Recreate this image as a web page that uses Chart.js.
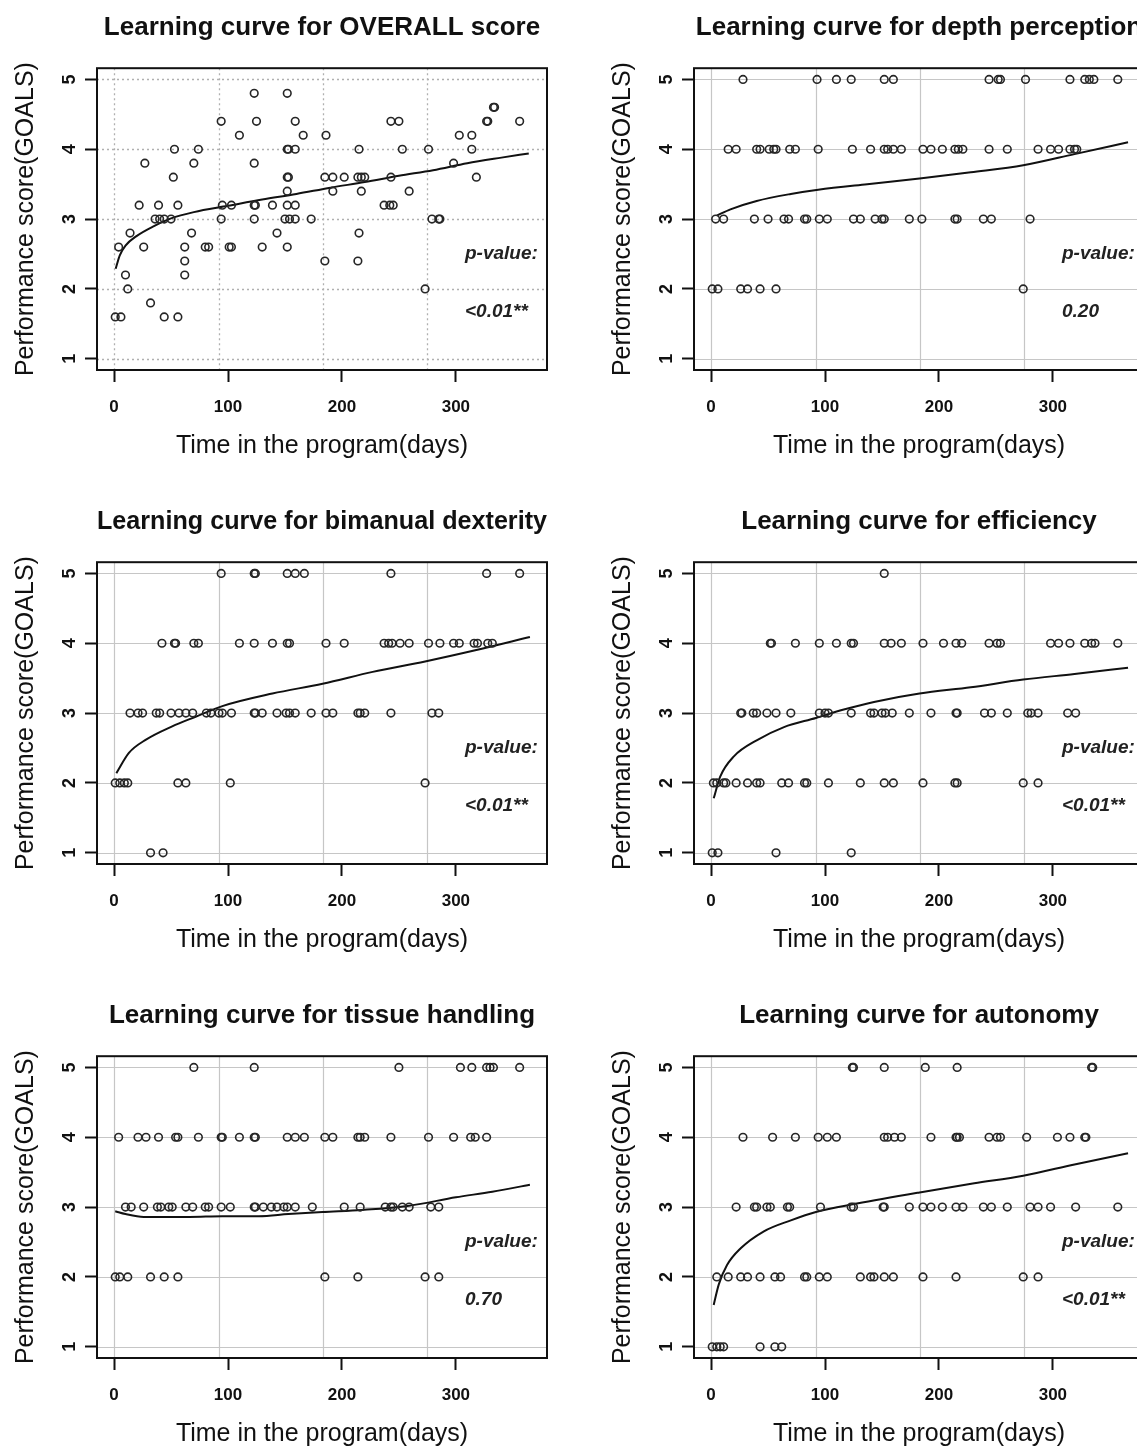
<!DOCTYPE html>
<html>
<head>
<meta charset="utf-8">
<script src="https://cdn.jsdelivr.net/npm/chart.js@4/dist/chart.umd.min.js"></script>
<style>
body { margin: 0; background: #fff; }
#wrap { position: relative; width: 1137px; height: 1446px; overflow: hidden; }
canvas { position: absolute; }
</style>
</head>
<body>
<div id="wrap"></div>
<script>
// axis stuff shared by every panel
const xTicks = [0, 100, 200, 300];
const yTicks = [1, 2, 3, 4, 5];
const gridDays = [0, 92, 183, 275];
const xTitle = 'Time in the program(days)';
const yTitle = 'Performance score(GOALS)';
const titles = [
  'Learning curve for OVERALL score',
  'Learning curve for depth perception',
  'Learning curve for bimanual dexterity',
  'Learning curve for efficiency',
  'Learning curve for tissue handling',
  'Learning curve for autonomy'
];
const pValues = ['<0.01**', '0.20', '<0.01**', '<0.01**', '0.70', '<0.01**'];

// observations: [score, [days...]]
const overallRows = [
  [4.8, [123, 152]],
  [4.6, [333, 334]],
  [4.4, [94, 125, 159, 243, 250, 327, 328, 356]],
  [4.2, [110, 166, 186, 303, 314]],
  [4.0, [53, 74, 152, 153, 159, 215, 253, 276, 314]],
  [3.8, [27, 70, 123, 298]],
  [3.6, [52, 152, 153, 185, 192, 202, 214, 217, 220, 243, 318]],
  [3.4, [152, 192, 217, 259]],
  [3.2, [22, 39, 56, 95, 103, 123, 124, 139, 152, 159, 237, 242, 245]],
  [3.0, [36, 40, 44, 50, 94, 123, 150, 154, 159, 173, 279, 285, 286]],
  [2.8, [14, 68, 143, 215]],
  [2.6, [4, 26, 62, 80, 83, 101, 103, 130, 152]],
  [2.4, [62, 185, 214]],
  [2.2, [10, 62]],
  [2.0, [12, 273]],
  [1.8, [32]],
  [1.6, [1, 6, 44, 56]]
];
const depthRows = [
  [5, [28, 93, 110, 123, 152, 160, 244, 252, 254, 276, 315, 328, 332, 336, 357]],
  [4, [15, 22, 40, 43, 51, 55, 57, 69, 74, 94, 124, 140, 152, 155, 160, 167, 186, 193, 203, 214, 217, 221, 244, 260, 287, 298, 305, 315, 319, 321]],
  [3, [4, 11, 38, 50, 64, 68, 82, 84, 95, 102, 125, 131, 144, 150, 152, 174, 185, 214, 216, 239, 246, 280]],
  [2, [1, 6, 26, 32, 43, 57, 274]]
];
const bimanualRows = [
  [5, [94, 123, 124, 152, 159, 167, 243, 327, 356]],
  [4, [42, 53, 54, 70, 74, 110, 123, 139, 152, 154, 186, 202, 237, 241, 244, 251, 259, 276, 286, 298, 303, 316, 319, 328, 332]],
  [3, [14, 21, 25, 37, 40, 50, 57, 63, 69, 81, 85, 92, 95, 103, 123, 124, 130, 143, 151, 154, 159, 173, 186, 192, 214, 216, 220, 243, 279, 285]],
  [2, [1, 5, 9, 12, 56, 63, 102, 273]],
  [1, [32, 43]]
];
const efficiencyRows = [
  [5, [152]],
  [4, [52, 53, 74, 95, 110, 123, 125, 152, 158, 167, 186, 204, 215, 220, 244, 251, 254, 298, 305, 315, 328, 334, 337, 357]],
  [3, [26, 27, 37, 40, 49, 57, 70, 95, 100, 103, 123, 140, 143, 150, 153, 159, 174, 193, 215, 216, 240, 246, 260, 278, 281, 287, 313, 320]],
  [2, [2, 5, 11, 13, 22, 32, 40, 43, 62, 68, 82, 84, 103, 131, 152, 160, 186, 214, 216, 274, 287]],
  [1, [1, 6, 57, 123]]
];
const tissueRows = [
  [5, [70, 123, 250, 304, 314, 327, 330, 333, 356]],
  [4, [4, 21, 28, 39, 54, 56, 74, 94, 95, 110, 123, 124, 152, 159, 167, 185, 192, 214, 216, 220, 243, 276, 298, 313, 317, 327]],
  [3, [10, 15, 26, 38, 41, 48, 51, 63, 69, 80, 83, 94, 102, 123, 124, 131, 138, 143, 149, 152, 159, 174, 202, 216, 238, 243, 245, 253, 259, 278, 285]],
  [2, [1, 5, 12, 32, 44, 56, 185, 214, 273, 285]]
];
const autonomyRows = [
  [5, [124, 125, 152, 188, 216, 334, 335]],
  [4, [28, 54, 74, 94, 102, 110, 152, 155, 161, 167, 193, 215, 216, 218, 244, 251, 254, 277, 304, 315, 328, 329]],
  [3, [22, 38, 40, 49, 52, 67, 69, 96, 123, 125, 151, 152, 174, 186, 193, 203, 215, 221, 239, 246, 260, 280, 287, 298, 320, 357]],
  [2, [5, 15, 26, 32, 43, 56, 61, 82, 84, 95, 102, 131, 140, 143, 152, 160, 186, 215, 274, 287]],
  [1, [1, 5, 8, 11, 43, 56, 62]]
];

// fitted curves: [day, score]
const overallFit = [[1.4, 2.29], [5, 2.48], [10, 2.62], [20, 2.76], [35, 2.90], [50, 3.01], [70, 3.10], [100, 3.19], [130, 3.28], [160, 3.36], [190, 3.45], [220, 3.53], [250, 3.62], [280, 3.70], [310, 3.80], [340, 3.88], [364, 3.94]];
const depthFit = [[5, 3.05], [17, 3.14], [40, 3.26], [70, 3.36], [94, 3.42], [137, 3.50], [183, 3.58], [228, 3.67], [274, 3.77], [319, 3.93], [366, 4.10]];
const bimanualFit = [[2, 2.14], [13, 2.43], [28, 2.62], [51, 2.81], [72, 2.95], [95, 3.10], [139, 3.28], [183, 3.42], [227, 3.59], [273, 3.74], [317, 3.90], [365, 4.09]];
const efficiencyFit = [[2.3, 1.78], [8, 2.09], [20, 2.38], [40, 2.61], [64, 2.80], [92, 2.93], [114, 3.04], [143, 3.16], [183, 3.28], [228, 3.37], [274, 3.48], [319, 3.56], [366, 3.65]];
const tissueFit = [[1, 2.94], [10, 2.90], [26, 2.86], [66, 2.86], [95, 2.87], [127, 2.87], [153, 2.90], [183, 2.93], [218, 2.96], [259, 3.02], [300, 3.14], [332, 3.22], [365, 3.32]];
const autonomyFit = [[2.3, 1.60], [6.7, 1.89], [14, 2.17], [26, 2.41], [46, 2.65], [70, 2.81], [92, 2.93], [128, 3.05], [183, 3.21], [231, 3.34], [274, 3.45], [319, 3.61], [366, 3.77]];

const allRows = [overallRows, depthRows, bimanualRows, efficiencyRows, tissueRows, autonomyRows];
const allFits = [overallFit, depthFit, bimanualFit, efficiencyFit, tissueFit, autonomyFit];

const FONT = "'Liberation Sans', Arial, Helvetica, sans-serif";
const INK = '#111';

const decor = {
  id: 'decor',
  beforeDatasetsDraw(chart, args, opts) {
    const { ctx, chartArea: a, scales: { x, y } } = chart;
    ctx.save();
    ctx.beginPath();
    ctx.rect(a.left, a.top, a.width, a.height);
    ctx.clip();
    ctx.strokeStyle = opts.dotted ? '#b0b0b0' : '#c6c6c6';
    ctx.lineWidth = opts.dotted ? 1.3 : 1.2;
    ctx.setLineDash(opts.dotted ? [2, 3] : []);
    gridDays.forEach(d => {
      const px = Math.round(x.getPixelForValue(d)) + 0.5;
      ctx.beginPath(); ctx.moveTo(px, a.top); ctx.lineTo(px, a.bottom); ctx.stroke();
    });
    yTicks.forEach(v => {
      const py = Math.round(y.getPixelForValue(v)) + 0.5;
      ctx.beginPath(); ctx.moveTo(a.left, py); ctx.lineTo(a.right, py); ctx.stroke();
    });
    ctx.restore();
  },
  afterDraw(chart, args, opts) {
    const { ctx, chartArea: a, scales: { x, y } } = chart;
    ctx.save();
    ctx.strokeStyle = INK;
    ctx.lineWidth = 2;
    ctx.strokeRect(a.left, a.top, a.width, a.height);
    ctx.fillStyle = '#222';
    ctx.font = 'italic bold 19px ' + FONT;
    ctx.textAlign = 'left';
    ctx.textBaseline = 'middle';
    ctx.fillText('p-value:', x.getPixelForValue(308), y.getPixelForValue(2.5));
    ctx.fillText(opts.p, x.getPixelForValue(308), y.getPixelForValue(1.67));
    ctx.restore();
  }
};

const wrap = document.getElementById('wrap');
for (let i = 0; i < 6; i++) {
  const cv = document.createElement('canvas');
  cv.width = 570; cv.height = 494;
  cv.style.left = (i % 2 ? 597 : 0) + 'px';
  cv.style.top = (Math.floor(i / 2) * 494) + 'px';
  wrap.appendChild(cv);

  const pts = [];
  allRows[i].forEach(r => r[1].forEach(d => pts.push({ x: d, y: r[0] })));
  const fit = allFits[i].map(p => ({ x: p[0], y: p[1] }));

  new Chart(cv, {
    type: 'scatter',
    data: {
      datasets: [
        { data: pts, pointStyle: 'circle', pointRadius: 3.8, borderWidth: 1.6,
          borderColor: '#262626', backgroundColor: 'rgba(0,0,0,0)' },
        { data: fit, showLine: true, pointRadius: 0, borderColor: INK, borderWidth: 2,
          cubicInterpolationMode: 'monotone' }
      ]
    },
    options: {
      responsive: false,
      animation: false,
      devicePixelRatio: 1,
      layout: { padding: { right: 23 } },
      plugins: {
        legend: { display: false },
        tooltip: { enabled: false },
        title: { display: true, text: titles[i], fullSize: false, color: INK,
          font: { family: FONT, size: 26, weight: 'bold' }, padding: { top: 12, bottom: 25 } },
        decor: { dotted: i === 0, p: pValues[i] }
      },
      scales: {
        x: {
          type: 'linear', min: -15, max: 380,
          afterBuildTicks: s => { s.ticks = xTicks.map(v => ({ value: v })); },
          afterFit: s => { s.height = 124; },
          grid: { drawOnChartArea: false, tickLength: 12, color: INK, tickColor: INK, tickWidth: 2 },
          border: { display: false },
          ticks: { color: INK, maxRotation: 0, padding: 15, font: { family: FONT, size: 17, weight: 'bold' } },
          title: { display: true, text: xTitle, color: INK, font: { family: FONT, size: 25 }, padding: { top: 0, bottom: 33 } }
        },
        y: {
          type: 'linear', min: 0.84, max: 5.16,
          afterBuildTicks: s => { s.ticks = yTicks.map(v => ({ value: v })); },
          afterFit: s => { s.width = 97; },
          grid: { drawOnChartArea: false, tickLength: 12, color: INK, tickColor: INK, tickWidth: 2 },
          border: { display: false },
          ticks: { color: INK, minRotation: 90, maxRotation: 90, crossAlign: 'center', padding: 10,
            font: { family: FONT, size: 18, weight: 'bold' } },
          title: { display: true, text: yTitle, color: INK, font: { family: FONT, size: 25 }, padding: { top: 11, bottom: 0 } }
        }
      }
    },
    plugins: [decor]
  });
}
</script>
</body>
</html>
